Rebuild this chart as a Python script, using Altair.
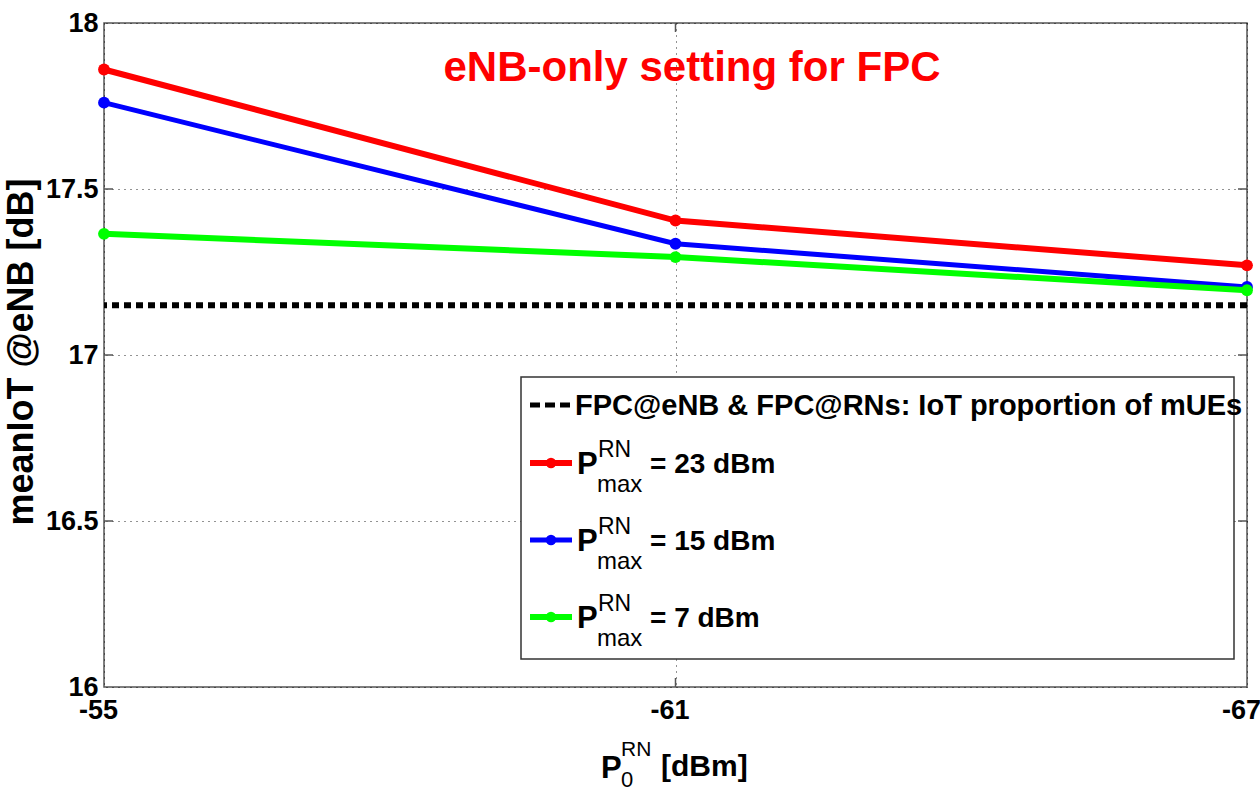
import altair as alt
import pandas as pd

# Mean IoT at the eNB versus the RN target power P0, one series per RN max power
p0_dbm = [-55, -61, -67]
iot_pmax_23 = [17.86, 17.405, 17.27]
iot_pmax_15 = [17.76, 17.335, 17.205]
iot_pmax_7 = [17.365, 17.295, 17.195]
iot_fpc_both = 17.15  # FPC@eNB & FPC@RNs reference level

series_labels = ["= 23 dBm", "= 15 dBm", "= 7 dBm"]
series_values = [iot_pmax_23, iot_pmax_15, iot_pmax_7]
series_colors = ["#ff0000", "#0000ff", "#00ff00"]
series_widths = [6, 5, 6]

y_tick_values = [16, 16.5, 17, 17.5, 18]
x_tick_values = [-55, -61, -67]

W, H = 1143, 664
FONT = "Liberation Sans"

x_enc = alt.X(
    "p0:Q",
    scale=alt.Scale(domain=[-67, -55], reverse=True, nice=False, zero=False),
    axis=alt.Axis(values=x_tick_values, title=None, labelExpr="datum.value + ''",
                  labelPadding=10, labelFontSize=27, labelFlush=False, labelOffset=-6),
)
y_scale = alt.Scale(domain=[16, 18], nice=False, zero=False)
y_axis = alt.Axis(values=y_tick_values, title=None, format="~g",
                  labelPadding=6, labelFontSize=27, labelFlush=False)


def y_enc(field):
    return alt.Y(field, scale=y_scale, axis=y_axis)


one_row = alt.Data(values=[{"k": 0}])


def text(s, x, y, size, color="black", align="left", angle=0, weight="bold"):
    return alt.Chart(one_row).mark_text(
        text=s, font=FONT, fontWeight=weight, fontSize=size, color=color,
        align=align, baseline="alphabetic", angle=angle,
    ).encode(x=alt.value(x), y=alt.value(y))


layers = []

# inward tick marks on all four sides
ytick_df = pd.DataFrame({"v": [16.5, 17, 17.5]})
xtick_df = pd.DataFrame({"p0": [-61]})
for a, b in [(0, 9), (W - 9, W)]:
    layers.append(alt.Chart(ytick_df).mark_rule(color="#555", strokeWidth=1.5).encode(
        y=y_enc("v:Q"), x=alt.value(a), x2=alt.value(b)))
for a, b in [(0, 9), (H - 9, H)]:
    layers.append(alt.Chart(xtick_df).mark_rule(color="#555", strokeWidth=1.5).encode(
        x=x_enc, y=alt.value(a), y2=alt.value(b)))

# reference level: FPC at eNB and RNs
layers.append(alt.Chart(pd.DataFrame({"iot": [iot_fpc_both]})).mark_rule(
    color="black", strokeWidth=6, strokeDash=[7, 5]).encode(y=y_enc("iot:Q")))

for vals, color, sw in zip(series_values, series_colors, series_widths):
    df = pd.DataFrame({"p0": p0_dbm, "iot": vals})
    layers.append(alt.Chart(df).mark_line(
        color=color, strokeWidth=sw,
        point=alt.OverlayMarkDef(filled=True, size=140, color=color, opacity=1),
    ).encode(x=x_enc, y=y_enc("iot:Q")))

ox, oy = 104, 23

# chart title inside the plot
layers.append(text("eNB-only setting for FPC", 692 - ox, 81 - oy, 42,
                   color="#ff0000", align="center"))

# y-axis title
layers.append(text("meanIoT @eNB [dB]", 33 - ox, 352 - oy, 36, align="center", angle=270))

# x-axis title: P_0^RN [dBm]
layers.append(text("P", 601 - ox, 778 - oy, 31))
layers.append(text("RN", 621 - ox, 756 - oy, 21, weight="normal"))
layers.append(text("0", 621 - ox, 787 - oy, 22, weight="normal"))
layers.append(text("[dBm]", 661 - ox, 776 - oy, 30))

# legend box
layers.append(alt.Chart(one_row).mark_rect(
    fill="white", stroke="#333", strokeWidth=1.5).encode(
    x=alt.value(521 - ox), x2=alt.value(1234 - ox),
    y=alt.value(377 - oy), y2=alt.value(659 - oy)))

# legend: reference entry
row1 = 405 - oy
layers.append(alt.Chart(one_row).mark_rule(color="black", strokeWidth=5, strokeDash=[10, 5]).encode(
    x=alt.value(530 - ox), x2=alt.value(572 - ox), y=alt.value(row1)))
layers.append(text("FPC@eNB & FPC@RNs: IoT proportion of mUEs", 575 - ox, row1 + 10, 29))

# legend: P_max^RN entries
for i, (label, color, sw) in enumerate(zip(series_labels, series_colors, series_widths)):
    c = 463 + 77 * i - oy
    layers.append(alt.Chart(one_row).mark_rule(color=color, strokeWidth=sw).encode(
        x=alt.value(530 - ox), x2=alt.value(572 - ox), y=alt.value(c)))
    layers.append(alt.Chart(one_row).mark_point(
        filled=True, size=110, color=color, opacity=1, shape="circle").encode(
        x=alt.value(551 - ox), y=alt.value(c)))
    layers.append(text("P", 577 - ox, c + 11, 31))
    layers.append(text("RN", 598 - ox, c - 6, 23, weight="normal"))
    layers.append(text("max", 597 - ox, c + 29, 24, weight="normal"))
    layers.append(text(label, 650 - ox, c + 10, 28))

chart = alt.layer(*layers).properties(
    width=W, height=H,
    padding={"left": 104, "top": 23, "right": 13, "bottom": 106},
    autosize=alt.AutoSizeParams(type="none"),
).configure_view(
    stroke="#555", strokeWidth=1.5,
).configure_axis(
    labelFont=FONT, labelFontWeight="bold", labelColor="black",
    domain=False, ticks=False,
    grid=True, gridColor="black", gridDash=[1, 5], gridWidth=1, gridOpacity=0.85,
)

chart.save("out.html", embed_options={"renderer": "svg", "actions": False})
